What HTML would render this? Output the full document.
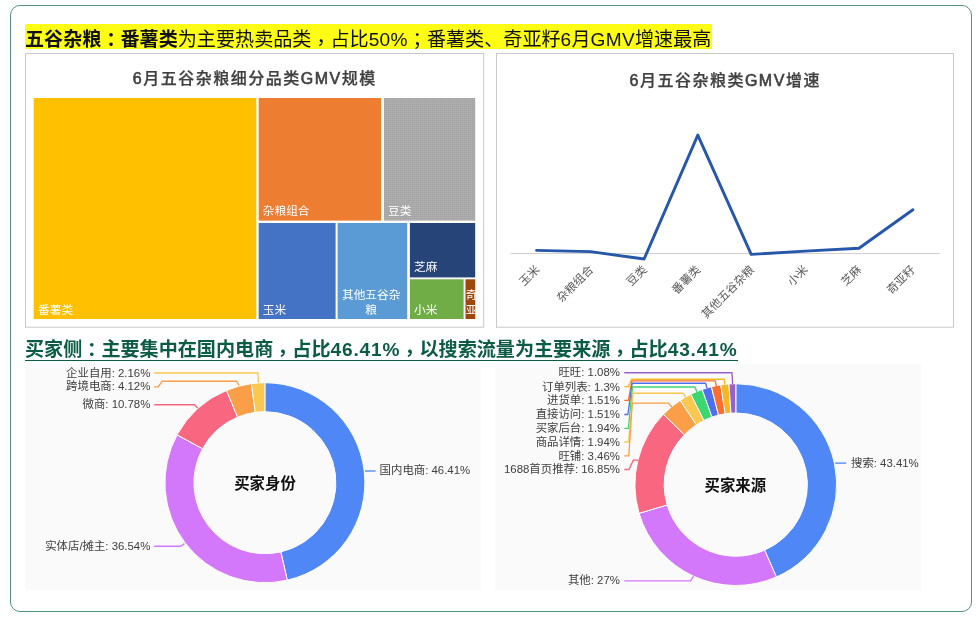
<!DOCTYPE html>
<html lang="zh-CN">
<head>
<meta charset="utf-8">
<title>五谷杂粮</title>
<style>
html,body{margin:0;padding:0;background:#fff;}
body{width:977px;height:617px;position:relative;overflow:hidden;font-family:"Liberation Sans", "Noto Sans CJK SC", sans-serif;}
.frame{position:absolute;left:9.8px;top:4.8px;width:960.3px;height:605.6px;border:1.2px solid #55917f;border-radius:10px;box-sizing:content-box;}
svg.charts{position:absolute;left:0;top:0;}
.h1{position:absolute;left:25px;top:24px;height:24.8px;font-size:19.1px;color:#111;white-space:nowrap;background:#fcfc14;width:687px;}
.h1 .t{position:absolute;left:0;top:3.6px;line-height:24.8px;}
.h1 b{font-weight:700;}
.h1 i{font-style:normal;letter-spacing:0.3px;}
.h2{position:absolute;left:25px;top:336.7px;height:26px;line-height:26px;font-size:19.1px;font-weight:700;color:#0c5c45;white-space:nowrap;}
.h2 .t{display:inline-block;height:23.1px;line-height:26px;border-bottom:1.4px solid #0c5c45;}
.h2 i{font-style:normal;letter-spacing:0.85px;}
.p{font-family:"Liberation Sans","Noto Sans CJK TC",sans-serif;position:relative;top:4px;}
.p.c{top:1.5px;}
.p.s{top:1px;}
</style>
</head>
<body>
<div class="frame"></div>
<svg class="charts" width="977" height="617" viewBox="0 0 977 617">
<rect x="25" y="364" width="455.5" height="226" fill="#fafafb"/>
<rect x="495.5" y="364" width="425.5" height="226" fill="#fafafb"/>
<rect x="25.5" y="53.5" width="458.2" height="273.7" fill="#fff" stroke="#c8c9cc" stroke-width="1"/>
<rect x="496.5" y="53.5" width="457" height="273.7" fill="#fff" stroke="#c8c9cc" stroke-width="1"/>
<defs><pattern id="dots" width="2" height="2" patternUnits="userSpaceOnUse"><rect width="2" height="2" fill="#aaaaaa"/><rect width="1" height="1" fill="#a3a3a3"/><rect x="1" y="1" width="1" height="1" fill="#b0b0b0"/></pattern>
<clipPath id="cb"><rect x="465.5" y="279.3" width="9.7" height="39.7"/></clipPath></defs>
<rect x="33.7" y="98" width="222.6" height="221.0" fill="#ffc000"/>
<rect x="258.7" y="98" width="122.4" height="122.6" fill="#ed7d31"/>
<rect x="383.9" y="98" width="91.3" height="122.6" fill="url(#dots)"/>
<rect x="258.7" y="223" width="76.9" height="96.0" fill="#4472c4"/>
<rect x="337.6" y="223" width="69.6" height="96.0" fill="#5b9bd5"/>
<rect x="409.9" y="223" width="65.3" height="54.4" fill="#264478"/>
<rect x="409.9" y="279.3" width="53.7" height="39.7" fill="#70ad47"/>
<rect x="465.5" y="279.3" width="9.7" height="39.7" fill="#9e480e"/>
<text x="38" y="313.6" font-family='"Liberation Sans", "Noto Sans CJK SC", sans-serif' font-size="11.7" fill="#fff" text-anchor="start" >番薯类</text>
<text x="262.8" y="215.2" font-family='"Liberation Sans", "Noto Sans CJK SC", sans-serif' font-size="11.7" fill="#fff" text-anchor="start" >杂粮组合</text>
<text x="388" y="215.2" font-family='"Liberation Sans", "Noto Sans CJK SC", sans-serif' font-size="11.7" fill="#fff" text-anchor="start" >豆类</text>
<text x="262.8" y="313.6" font-family='"Liberation Sans", "Noto Sans CJK SC", sans-serif' font-size="11.7" fill="#fff" text-anchor="start" >玉米</text>
<text x="371.2" y="299.2" font-family='"Liberation Sans", "Noto Sans CJK SC", sans-serif' font-size="11.7" fill="#fff" text-anchor="middle" >其他五谷杂</text>
<text x="371.2" y="313.6" font-family='"Liberation Sans", "Noto Sans CJK SC", sans-serif' font-size="11.7" fill="#fff" text-anchor="middle" >粮</text>
<text x="414" y="270.5" font-family='"Liberation Sans", "Noto Sans CJK SC", sans-serif' font-size="11.7" fill="#fff" text-anchor="start" >芝麻</text>
<text x="414" y="313.6" font-family='"Liberation Sans", "Noto Sans CJK SC", sans-serif' font-size="11.7" fill="#fff" text-anchor="start" >小米</text>
<g clip-path="url(#cb)"><text x="465.7" y="299.2" font-family='"Liberation Sans", "Noto Sans CJK SC", sans-serif' font-size="11.7" fill="#fff">奇</text><text x="465.7" y="313.6" font-family='"Liberation Sans", "Noto Sans CJK SC", sans-serif' font-size="11.7" fill="#fff">亚</text></g>
<text x="254.8" y="83.6" font-family='"Liberation Sans", "Noto Sans CJK SC", sans-serif' font-size="16" font-weight="500" fill="#404040" stroke="#404040" stroke-width="0.25" text-anchor="middle" letter-spacing="1.5"><tspan stroke-width="0.6">6</tspan>月五谷杂粮细分品类<tspan stroke-width="0.6">GMV</tspan>规模</text>
<text x="725.2" y="86" font-family='"Liberation Sans", "Noto Sans CJK SC", sans-serif' font-size="16" font-weight="500" fill="#404040" stroke="#404040" stroke-width="0.25" text-anchor="middle" letter-spacing="1.5"><tspan stroke-width="0.6">6</tspan>月五谷杂粮类<tspan stroke-width="0.6">GMV</tspan>增速</text>
<line x1="510.7" y1="253.5" x2="939.8" y2="253.5" stroke="#d0d0d0" stroke-width="1"/>
<polyline fill="none" stroke="#2657ab" stroke-width="2.9" stroke-linejoin="round" stroke-linecap="round" points="536.6,250.4 590.4,251.6 644.1,259 697.8,135.1 751.2,254.4 805.1,251.1 859,248.2 912.9,209.7"/>
<text transform="translate(537.5 267.5) rotate(-45)" font-family='"Liberation Sans", "Noto Sans CJK SC", sans-serif' font-size="11.5" fill="#595959" text-anchor="end" dominant-baseline="central">玉米</text>
<text transform="translate(591.2 267.5) rotate(-45)" font-family='"Liberation Sans", "Noto Sans CJK SC", sans-serif' font-size="11.5" fill="#595959" text-anchor="end" dominant-baseline="central">杂粮组合</text>
<text transform="translate(644.8 267.5) rotate(-45)" font-family='"Liberation Sans", "Noto Sans CJK SC", sans-serif' font-size="11.5" fill="#595959" text-anchor="end" dominant-baseline="central">豆类</text>
<text transform="translate(698.4 267.5) rotate(-45)" font-family='"Liberation Sans", "Noto Sans CJK SC", sans-serif' font-size="11.5" fill="#595959" text-anchor="end" dominant-baseline="central">番薯类</text>
<text transform="translate(752.1 267.5) rotate(-45)" font-family='"Liberation Sans", "Noto Sans CJK SC", sans-serif' font-size="11.5" fill="#595959" text-anchor="end" dominant-baseline="central">其他五谷杂粮</text>
<text transform="translate(805.7 267.5) rotate(-45)" font-family='"Liberation Sans", "Noto Sans CJK SC", sans-serif' font-size="11.5" fill="#595959" text-anchor="end" dominant-baseline="central">小米</text>
<text transform="translate(859.4 267.5) rotate(-45)" font-family='"Liberation Sans", "Noto Sans CJK SC", sans-serif' font-size="11.5" fill="#595959" text-anchor="end" dominant-baseline="central">芝麻</text>
<text transform="translate(913.0 267.5) rotate(-45)" font-family='"Liberation Sans", "Noto Sans CJK SC", sans-serif' font-size="11.5" fill="#595959" text-anchor="end" dominant-baseline="central">奇亚籽</text>
<path d="M264.90 382.70A100 100 0 0 1 287.29 580.16L280.80 551.90A71 71 0 0 0 264.90 411.70Z" fill="#4f87f7" stroke="#fff" stroke-width="1" stroke-linejoin="round"/>
<path d="M287.29 580.16A100 100 0 0 1 177.09 434.85L202.56 448.72A71 71 0 0 0 280.80 551.90Z" fill="#d478fb" stroke="#fff" stroke-width="1" stroke-linejoin="round"/>
<path d="M177.09 434.85A100 100 0 0 1 226.46 390.38L237.61 417.15A71 71 0 0 0 202.56 448.72Z" fill="#f8667f" stroke="#fff" stroke-width="1" stroke-linejoin="round"/>
<path d="M226.46 390.38A100 100 0 0 1 251.37 383.62L255.29 412.35A71 71 0 0 0 237.61 417.15Z" fill="#fa9e47" stroke="#fff" stroke-width="1" stroke-linejoin="round"/>
<path d="M251.37 383.62A100 100 0 0 1 264.90 382.70L264.90 411.70A71 71 0 0 0 255.29 412.35Z" fill="#fac750" stroke="#fff" stroke-width="1" stroke-linejoin="round"/>
<path d="M735.80 383.70A100.9 100.9 0 0 1 776.40 576.97L764.61 550.15A71.6 71.6 0 0 0 735.80 413.00Z" fill="#4f87f7" stroke="#fff" stroke-width="1" stroke-linejoin="round"/>
<path d="M776.40 576.97A100.9 100.9 0 0 1 639.07 513.30L667.16 504.96A71.6 71.6 0 0 0 764.61 550.15Z" fill="#d478fb" stroke="#fff" stroke-width="1" stroke-linejoin="round"/>
<path d="M639.07 513.30A100.9 100.9 0 0 1 663.39 414.34L684.41 434.74A71.6 71.6 0 0 0 667.16 504.96Z" fill="#f8667f" stroke="#fff" stroke-width="1" stroke-linejoin="round"/>
<path d="M663.39 414.34A100.9 100.9 0 0 1 680.24 400.37L696.38 424.83A71.6 71.6 0 0 0 684.41 434.74Z" fill="#fa9e47" stroke="#fff" stroke-width="1" stroke-linejoin="round"/>
<path d="M680.24 400.37A100.9 100.9 0 0 1 690.90 394.24L703.94 420.48A71.6 71.6 0 0 0 696.38 424.83Z" fill="#fac750" stroke="#fff" stroke-width="1" stroke-linejoin="round"/>
<path d="M690.90 394.24A100.9 100.9 0 0 1 702.22 389.45L711.97 417.08A71.6 71.6 0 0 0 703.94 420.48Z" fill="#3dd670" stroke="#fff" stroke-width="1" stroke-linejoin="round"/>
<path d="M702.22 389.45A100.9 100.9 0 0 1 711.38 386.70L718.47 415.13A71.6 71.6 0 0 0 711.97 417.08Z" fill="#4f6fee" stroke="#fff" stroke-width="1" stroke-linejoin="round"/>
<path d="M711.38 386.70A100.9 100.9 0 0 1 720.77 384.83L725.13 413.80A71.6 71.6 0 0 0 718.47 415.13Z" fill="#f96d2e" stroke="#fff" stroke-width="1" stroke-linejoin="round"/>
<path d="M720.77 384.83A100.9 100.9 0 0 1 728.96 383.93L730.95 413.16A71.6 71.6 0 0 0 725.13 413.80Z" fill="#f5b825" stroke="#fff" stroke-width="1" stroke-linejoin="round"/>
<path d="M728.96 383.93A100.9 100.9 0 0 1 735.80 383.70L735.80 413.00A71.6 71.6 0 0 0 730.95 413.16Z" fill="#9a60c9" stroke="#fff" stroke-width="1" stroke-linejoin="round"/>
<text x="265" y="489.3" font-family='"Liberation Sans", "Noto Sans CJK SC", sans-serif' font-size="15.4" font-weight="700" fill="#111" text-anchor="middle">买家身份</text>
<text x="735.3" y="491.2" font-family='"Liberation Sans", "Noto Sans CJK SC", sans-serif' font-size="15.4" font-weight="700" fill="#111" text-anchor="middle">买家来源</text>
<polyline fill="none" stroke="#fac750" stroke-width="1.35" stroke-linejoin="round" points="154.1,373 257.9,373 258.4,382.5"/>
<polyline fill="none" stroke="#fa9e47" stroke-width="1.35" stroke-linejoin="round" points="154.1,386.9 158.1,386.9 162.3,381.2 236.7,381.2 239,385.5"/>
<polyline fill="none" stroke="#f8667f" stroke-width="1.35" stroke-linejoin="round" points="154.1,404.7 194.5,404.7 197.7,407.9"/>
<polyline fill="none" stroke="#d478fb" stroke-width="1.35" stroke-linejoin="round" points="154.1,546.2 180.7,546.2 184.5,543.6"/>
<polyline fill="none" stroke="#4f87f7" stroke-width="1.35" stroke-linejoin="round" points="365,471 375.6,471"/>
<text x="150.3" y="373" font-family='"Liberation Sans", "Noto Sans CJK SC", sans-serif' font-size="11.4" fill="#404040" text-anchor="end" dominant-baseline="central">企业自用: 2.16%</text>
<text x="150.3" y="386.2" font-family='"Liberation Sans", "Noto Sans CJK SC", sans-serif' font-size="11.4" fill="#404040" text-anchor="end" dominant-baseline="central">跨境电商: 4.12%</text>
<text x="150.3" y="404.2" font-family='"Liberation Sans", "Noto Sans CJK SC", sans-serif' font-size="11.4" fill="#404040" text-anchor="end" dominant-baseline="central">微商: 10.78%</text>
<text x="150.3" y="545.8" font-family='"Liberation Sans", "Noto Sans CJK SC", sans-serif' font-size="11.4" fill="#404040" text-anchor="end" dominant-baseline="central">实体店/摊主: 36.54%</text>
<text x="379.6" y="470.3" font-family='"Liberation Sans", "Noto Sans CJK SC", sans-serif' font-size="11.4" fill="#404040" text-anchor="start" dominant-baseline="central">国内电商: 46.41%</text>
<polyline fill="none" stroke="#9a60c9" stroke-width="1.35" stroke-linejoin="round" points="624.3,372.7 732,372.7 732.6,384"/>
<polyline fill="none" stroke="#f5b825" stroke-width="1.35" stroke-linejoin="round" points="624.3,386.6 628.4,386.6 631.5,379.2 724.1,379.2 725.1,384.6"/>
<polyline fill="none" stroke="#f96d2e" stroke-width="1.35" stroke-linejoin="round" points="624.3,400.4 628.4,400.4 631.9,380.9 715.2,380.9 716.4,385.8"/>
<polyline fill="none" stroke="#4f6fee" stroke-width="1.35" stroke-linejoin="round" points="624.3,414.5 627.9,414.5 632.2,383.2 705.6,383.2 707.1,388.2"/>
<polyline fill="none" stroke="#3dd670" stroke-width="1.35" stroke-linejoin="round" points="624.3,428.3 628.4,428.3 632.5,387 694.9,387 696.9,391.8"/>
<polyline fill="none" stroke="#fac750" stroke-width="1.35" stroke-linejoin="round" points="624.3,442 628.6,442 633,393.2 682.9,393.2 685.8,397.3"/>
<polyline fill="none" stroke="#fa9e47" stroke-width="1.35" stroke-linejoin="round" points="624.3,455.8 628.8,455.8 632.2,403.1 668.3,403.1 671.8,407"/>
<polyline fill="none" stroke="#f8667f" stroke-width="1.35" stroke-linejoin="round" points="624.3,469.5 629,469.5 633.5,459.9 638.3,460.4"/>
<polyline fill="none" stroke="#d478fb" stroke-width="1.35" stroke-linejoin="round" points="624.3,580.8 690.5,580.8 693.6,576.2"/>
<polyline fill="none" stroke="#4f87f7" stroke-width="1.35" stroke-linejoin="round" points="835.2,463.1 846.2,463.1"/>
<text x="619.9" y="372.2" font-family='"Liberation Sans", "Noto Sans CJK SC", sans-serif' font-size="11.4" fill="#404040" text-anchor="end" dominant-baseline="central">旺旺: 1.08%</text>
<text x="619.9" y="386.6" font-family='"Liberation Sans", "Noto Sans CJK SC", sans-serif' font-size="11.4" fill="#404040" text-anchor="end" dominant-baseline="central">订单列表: 1.3%</text>
<text x="619.9" y="400.3" font-family='"Liberation Sans", "Noto Sans CJK SC", sans-serif' font-size="11.4" fill="#404040" text-anchor="end" dominant-baseline="central">进货单: 1.51%</text>
<text x="619.9" y="414.2" font-family='"Liberation Sans", "Noto Sans CJK SC", sans-serif' font-size="11.4" fill="#404040" text-anchor="end" dominant-baseline="central">直接访问: 1.51%</text>
<text x="619.9" y="427.9" font-family='"Liberation Sans", "Noto Sans CJK SC", sans-serif' font-size="11.4" fill="#404040" text-anchor="end" dominant-baseline="central">买家后台: 1.94%</text>
<text x="619.9" y="441.8" font-family='"Liberation Sans", "Noto Sans CJK SC", sans-serif' font-size="11.4" fill="#404040" text-anchor="end" dominant-baseline="central">商品详情: 1.94%</text>
<text x="619.9" y="455.6" font-family='"Liberation Sans", "Noto Sans CJK SC", sans-serif' font-size="11.4" fill="#404040" text-anchor="end" dominant-baseline="central">旺铺: 3.46%</text>
<text x="619.9" y="469.1" font-family='"Liberation Sans", "Noto Sans CJK SC", sans-serif' font-size="11.4" fill="#404040" text-anchor="end" dominant-baseline="central">1688首页推荐: 16.85%</text>
<text x="619.9" y="580.4" font-family='"Liberation Sans", "Noto Sans CJK SC", sans-serif' font-size="11.4" fill="#404040" text-anchor="end" dominant-baseline="central">其他: 27%</text>
<text x="851" y="462.8" font-family='"Liberation Sans", "Noto Sans CJK SC", sans-serif' font-size="11.4" fill="#404040" text-anchor="start" dominant-baseline="central">搜索: 43.41%</text>
</svg>
<div class="h1"><span class="t"><b>五谷杂粮<span class="p c" lang="zh-TW">：</span>番薯类</b>为主要热卖品类<span class="p" lang="zh-TW">，</span>占比<i>50%</i><span class="p s" lang="zh-TW">；</span>番薯类、奇亚籽<i>6</i>月<i>GMV</i>增速最高</span></div>
<div class="h2"><span class="t">买家侧<span class="p c" lang="zh-TW">：</span>主要集中在国内电商<span class="p" lang="zh-TW">，</span>占比<i>46.41%</i><span class="p" lang="zh-TW">，</span>以搜索流量为主要来源<span class="p" lang="zh-TW">，</span>占比<i>43.41%</i></span></div>
</body>
</html>
